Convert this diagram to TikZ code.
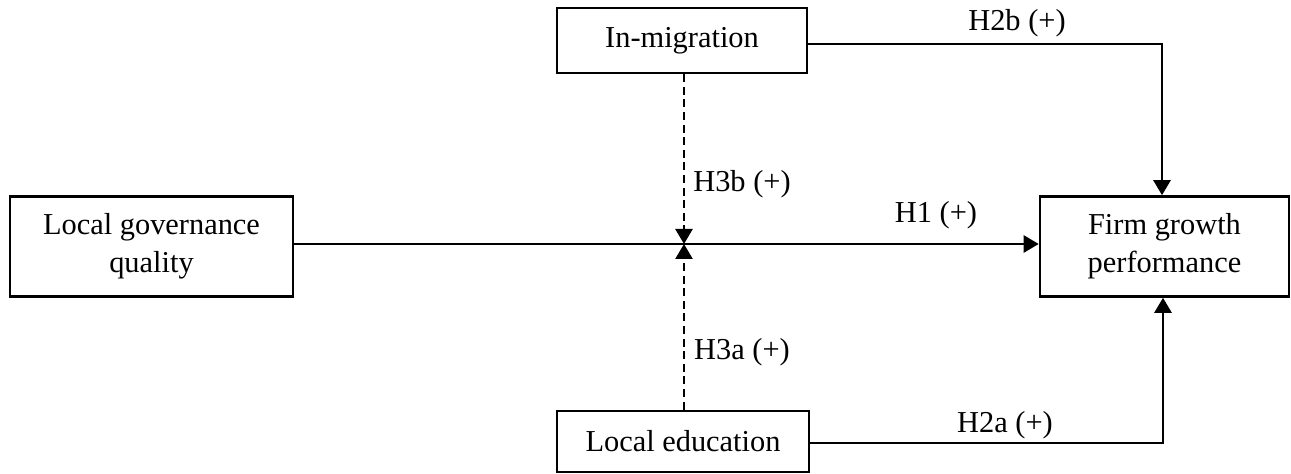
\documentclass[tikz,border=0pt]{standalone}
\usepackage{fontspec}
\setmainfont{Liberation Serif}
\usetikzlibrary{arrows.meta}
\tikzset{
  box/.style={draw, line width=1.3pt, rectangle, align=center, inner sep=0pt,
    font=\fontsize{15.2}{19}\selectfont},
  lab/.style={font=\fontsize{15.2}{19}\selectfont, inner sep=0pt},
  conn/.style={line width=1.3pt},
  arr/.style={conn, -{Triangle[length=7.5pt,width=8.5pt]}},
  darr/.style={arr, dash pattern=on 4pt off 2.3pt},
}
\begin{document}
\begin{tikzpicture}[x=0.5pt,y=-0.5pt]
\useasboundingbox (0,0) rectangle (1291,474);
\node[box, minimum width=125pt, minimum height=32.5pt] (mig) at (682,40.5) {In-migration};
\node[box, minimum width=141.5pt, minimum height=50pt] (gov) at (151.5,246.5) {Local governance\\quality};
\node[box, minimum width=124.5pt, minimum height=50pt] (firm) at (1164.5,246.5) {Firm growth\\performance};
\node[box, minimum width=126pt, minimum height=30.5pt] (edu) at (683,441.5) {Local education};
\coordinate (m) at (684,244);
\coordinate (tr) at (1162,44);
\coordinate (br) at (1163,443);
\draw[arr] (gov.east |- m) -- (firm.west |- m);
\draw[darr] (mig.south -| m) -- (m);
\draw[darr] (edu.north -| m) -- (m);
\draw[arr] (mig.east |- tr) -- (tr) -- (tr |- firm.north);
\draw[arr] (edu.east |- br) -- (br) -- (br |- firm.south);
\node[lab] (l2b) at (1017,23) {H2b (+)};
\node[lab] (l3b) at (742,184) {H3b (+)};
\node[lab] (l1) at (936,215) {H1 (+)};
\node[lab] (l3a) at (742,352) {H3a (+)};
\node[lab] (l2a) at (1005,425) {H2a (+)};
\end{tikzpicture}
\end{document}
